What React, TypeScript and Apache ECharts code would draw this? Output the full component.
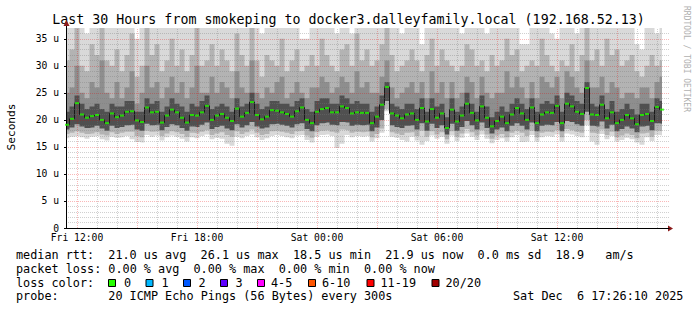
import React, { useEffect, useRef } from 'react';
import * as echarts from 'echarts';

// ---- time base (hours since Fri 00:00), one sample every 15 minutes ----
const startHour = 11.5;
const stepHours = 0.25;
const xMin = 11.45;
const xMax = 41.6;

// ---- median rtt (us) ----
const median = [
  19.1, 20.2, 23.1, 21.0, 20.4, 20.7, 20.9, 20.0, 19.4, 21.2,
  20.5, 20.8, 21.5, 21.6, 19.9, 19.6, 22.3, 21.4, 21.5, 19.5,
  20.8, 21.9, 21.4, 20.4, 19.5, 20.9, 20.8, 21.4, 22.6, 20.0,
  20.8, 21.1, 20.4, 19.8, 22.1, 20.6, 21.3, 23.3, 20.9, 20.1,
  20.6, 21.8, 21.7, 21.4, 21.1, 20.6, 21.6, 22.3, 20.0, 19.4,
  21.5, 22.0, 22.2, 21.4, 21.4, 22.5, 22.2, 21.2, 21.4, 21.3,
  21.3, 19.4, 20.6, 22.8, 26.1, 21.2, 20.8, 20.3, 21.0, 21.2,
  20.0, 22.2, 19.7, 22.0, 20.4, 21.2, 18.5, 21.9, 19.7, 20.8,
  23.0, 21.3, 19.9, 22.5, 20.4, 18.8, 19.8, 20.6, 19.4, 21.0,
  22.2, 21.2, 20.0, 22.3, 19.4, 21.0, 21.4, 21.3, 22.6, 19.4,
  23.0, 22.5, 21.5, 21.1, 25.9, 21.0, 20.9, 22.8, 20.3, 21.4,
  19.4, 20.0, 20.9, 20.3, 19.2, 20.9, 21.1, 19.8, 22.4, 21.9,
];

// ---- smoke: outermost (lightest) band ----
const smokeMin = [
  16.6, 16.9, 17.0, 16.8, 16.5, 16.9, 17.0, 16.4, 16.2, 16.9,
  16.7, 16.8, 17.0, 16.4, 15.9, 15.8, 17.2, 16.9, 17.1, 16.2,
  16.8, 17.1, 16.9, 16.5, 16.0, 16.8, 16.6, 17.0, 17.3, 16.4,
  16.7, 16.5, 15.6, 15.2, 16.9, 16.6, 17.0, 17.3, 16.8, 16.3,
  16.6, 17.0, 17.2, 17.0, 16.8, 16.6, 17.1, 17.2, 16.3, 15.8,
  16.9, 17.2, 17.3, 17.0, 14.8, 15.6, 17.2, 16.8, 17.0, 16.9,
  17.0, 16.0, 16.6, 17.6, 21.6, 16.9, 16.7, 16.3, 16.0, 16.9,
  16.2, 15.4, 16.1, 17.1, 16.5, 16.9, 15.6, 17.1, 16.1, 16.7,
  17.5, 16.9, 16.3, 17.3, 16.5, 15.7, 16.3, 16.6, 16.0, 16.8,
  17.2, 15.9, 16.0, 17.2, 16.0, 16.8, 17.0, 16.9, 17.3, 16.0,
  17.5, 17.3, 17.0, 16.8, 19.0, 16.0, 15.4, 17.4, 16.4, 17.0,
  16.0, 16.3, 16.7, 16.4, 15.8, 15.4, 16.8, 16.1, 17.2, 17.1,
];
const smokeMax = [
  40, 39, 42, 38, 36, 41, 40, 44, 39, 38,
  41, 38, 40, 39, 35, 42, 40, 39, 43, 38,
  40, 44, 39, 41, 38, 40, 42, 39, 40, 43,
  39, 41, 40, 38, 42, 40, 39, 44, 40, 36,
  41, 40, 39, 42, 38, 40, 41, 35, 35, 40,
  39, 42, 40, 38, 36, 40, 41, 36, 43, 40,
  41, 39, 40, 42, 44, 40, 38, 36, 39, 41,
  40, 34, 40, 42, 39, 41, 40, 38, 40, 36,
  40, 42, 39, 38, 36, 40, 40, 39, 42, 40,
  41, 34, 34, 40, 39, 42, 40, 36, 35, 40,
  39, 42, 36, 40, 44, 40, 41, 39, 42, 40,
  41, 39, 40, 40, 34, 33, 38, 40, 36, 39,
];

// ---- smoke: second band ----
const smokeLoOuter = [
  17.4, 17.6, 17.9, 17.6, 17.4, 17.5, 17.7, 17.3, 17.1, 17.7,
  17.4, 17.6, 17.8, 17.8, 17.0, 16.8, 18.0, 17.8, 17.9, 17.0,
  17.5, 17.9, 17.7, 17.4, 16.9, 17.6, 17.5, 17.8, 18.1, 17.2,
  17.5, 17.7, 17.2, 16.9, 17.9, 17.4, 17.7, 18.2, 17.6, 17.2,
  17.4, 17.9, 18.0, 17.8, 17.6, 17.4, 17.9, 18.0, 17.1, 16.7,
  17.7, 18.0, 18.1, 17.8, 17.6, 18.2, 18.1, 17.6, 17.8, 17.7,
  17.8, 16.8, 17.4, 18.4, 22.0, 17.7, 17.5, 17.2, 17.6, 17.7,
  17.0, 18.0, 16.9, 17.9, 17.3, 17.7, 16.4, 17.9, 16.9, 17.5,
  18.3, 17.7, 17.1, 18.1, 17.3, 16.5, 17.1, 17.4, 16.8, 17.6,
  18.0, 17.6, 17.0, 18.0, 16.8, 17.6, 17.8, 17.7, 18.1, 16.8,
  18.3, 18.1, 17.8, 17.6, 20.0, 17.6, 17.5, 18.2, 17.2, 17.8,
  16.8, 17.1, 17.5, 17.2, 16.6, 17.5, 17.6, 16.9, 18.0, 17.9,
];
const smokeHiOuter = [
  31, 33, 38, 30, 29, 34, 32, 38, 31, 30,
  33, 29, 32, 36, 28, 30, 38, 32, 34, 29,
  31, 35, 30, 33, 29, 32, 37, 30, 31, 34,
  30, 33, 31, 29, 36, 32, 30, 38, 31, 28,
  32, 31, 30, 35, 29, 31, 33, 29, 30, 32,
  30, 35, 32, 30, 29, 33, 34, 30, 36, 31,
  33, 30, 31, 34, 38, 32, 29, 30, 31, 33,
  31, 29, 32, 35, 30, 33, 31, 30, 29, 30,
  34, 33, 30, 31, 29, 32, 30, 31, 35, 32,
  33, 29, 30, 31, 30, 35, 32, 30, 29, 31,
  30, 34, 29, 32, 38, 31, 33, 30, 35, 32,
  33, 30, 31, 32, 29, 28, 30, 32, 30, 31,
];

// ---- smoke: inner bands ----
const smokeLoInner = [
  18.2, 18.6, 19.2, 18.8, 18.5, 18.6, 18.9, 18.4, 18.0, 18.9,
  18.5, 18.7, 19.0, 19.1, 18.2, 18.0, 19.3, 19.0, 19.1, 18.1,
  18.7, 19.2, 19.0, 18.5, 18.0, 18.8, 18.7, 19.1, 19.5, 18.3,
  18.7, 18.9, 18.4, 18.1, 19.2, 18.6, 19.0, 19.6, 18.8, 18.4,
  18.6, 19.2, 19.3, 19.1, 18.9, 18.6, 19.2, 19.4, 18.3, 17.9,
  19.0, 19.4, 19.5, 19.1, 19.0, 19.6, 19.5, 18.9, 19.1, 19.0,
  19.1, 17.9, 18.6, 20.0, 23.5, 19.0, 18.7, 18.5, 18.9, 19.0,
  18.2, 19.4, 18.0, 19.3, 18.5, 19.0, 17.3, 19.3, 18.0, 18.7,
  19.8, 19.0, 18.2, 19.5, 18.5, 17.5, 18.2, 18.6, 17.9, 18.9,
  19.4, 18.9, 18.2, 19.5, 17.9, 18.9, 19.1, 19.0, 19.6, 17.9,
  19.8, 19.6, 19.2, 18.9, 21.5, 18.9, 18.8, 19.7, 18.4, 19.1,
  17.9, 18.3, 18.8, 18.4, 17.7, 18.8, 18.9, 18.1, 19.4, 19.3,
];
const smokeHiMid = [
  25, 26, 30, 25, 24, 27, 26, 31, 25, 24,
  27, 24, 26, 29, 23, 25, 30, 26, 27, 24,
  26, 28, 25, 27, 24, 26, 30, 25, 25, 28,
  25, 27, 26, 24, 29, 26, 25, 31, 25, 24,
  26, 25, 27, 28, 24, 25, 27, 25, 24, 26,
  26, 28, 27, 25, 26, 28, 27, 25, 29, 26,
  27, 25, 25, 28, 31, 26, 24, 25, 26, 27,
  25, 27, 24, 29, 25, 27, 24, 27, 24, 25,
  28, 27, 24, 28, 25, 24, 25, 25, 29, 26,
  28, 26, 24, 27, 24, 28, 27, 26, 28, 24,
  29, 28, 26, 25, 31, 26, 26, 28, 25, 27,
  26, 24, 25, 25, 24, 26, 26, 24, 27, 28,
];
const smokeHiInner = [
  21.5, 22.5, 24.5, 23, 22, 22.5, 23, 22, 21.5, 23,
  22.5, 22.5, 23.5, 23.5, 21.5, 21.5, 24, 23, 23.5, 21.5,
  22.5, 24, 23, 22.5, 21.5, 23, 22.5, 23.5, 24.5, 22,
  22.5, 23, 22.5, 21.5, 24, 22.5, 23, 25, 23, 22,
  22.5, 23.5, 23.5, 23, 23, 22.5, 23.5, 24, 22, 21.5,
  23.5, 24, 24, 23, 23, 24.5, 24, 23, 23.5, 23,
  23, 21.5, 22.5, 24.5, 27, 23, 22.5, 22, 23, 23,
  22, 24, 21.5, 24, 22.5, 23, 20.5, 24, 21.5, 22.5,
  25, 23, 21.5, 24.5, 22.5, 20.5, 21.5, 22.5, 21.5, 23,
  24, 23, 22, 24, 21.5, 23, 23.5, 23, 24.5, 21.5,
  25, 24.5, 23.5, 23, 27, 23, 22.5, 24.5, 22, 23.5,
  21.5, 22, 23, 22, 21, 23, 23, 21.5, 24, 23.5,
];

// ---- axes ----
const xTickHours = [12, 18, 24, 30, 36];
const xTickLabels = ['Fri 12:00', 'Fri 18:00', 'Sat 00:00', 'Sat 06:00', 'Sat 12:00'];
const yTicks = [0, 5, 10, 15, 20, 25, 30, 35];
const yMax = 37;

// ---- legend ----
const titleText = 'Last 30 Hours from smokeping to docker3.dalleyfamily.local (192.168.52.13)';
const legendLine1 = 'median rtt:  21.0 us avg  26.1 us max  18.5 us min  21.9 us now  0.0 ms sd  18.9   am/s';
const legendLine2 = 'packet loss: 0.00 % avg  0.00 % max  0.00 % min  0.00 % now';
const legendLine4 = 'probe:       20 ICMP Echo Pings (56 Bytes) every 300s';
const dateText = 'Sat Dec  6 17:26:10 2025';
const lossLabels = ['0', '1', '2', '3', '4-5', '6-10', '11-19', '20/20'];
const lossColors = ['#26ff00', '#00b8ff', '#0059ff', '#5e00ff', '#ff00ff', '#ff5500', '#ff0000', '#a10000'];
const lossBoxX = [108, 145.5, 183, 220, 257, 308, 366.5, 431.5];
const lossLabelX = [124, 161.5, 198.5, 235.5, 271, 322, 380.5, 445.5];

// smoke shades, outermost to innermost
const SHADE_A = '#d9d9d9';
const SHADE_B = '#b3b3b3';
const SHADE_C = '#8e8e8e';
const SHADE_D = '#505050';

const MAJOR_GRID = 'rgba(235,0,0,0.28)';
const MINOR_GRID = 'rgba(120,120,120,0.35)';

const MONO = '"DejaVu Sans Mono", monospace';
const CHAR_W = 7.1;
const LEG_FONT = `11.8px ${MONO}`;

function tokens(line: string, y: number) {
  const out: any[] = [];
  const re = /\S+(?: \S+)*/g;
  let m: RegExpExecArray | null;
  while ((m = re.exec(line)) !== null) {
    out.push({
      type: 'text',
      silent: true,
      style: {
        text: m[0],
        x: 16 + m.index * CHAR_W,
        y,
        font: LEG_FONT,
        fill: '#000',
        textVerticalAlign: 'middle',
      },
    });
  }
  return out;
}

export default function App() {
  const ref = useRef<HTMLDivElement>(null);
  useEffect(() => {
    const chart = echarts.init(ref.current!, null, { renderer: 'svg' });
    const xs = median.map((_, i) => startHour + i * stepHours);
    const pair = (arr: number[]) => arr.map((v, i) => [xs[i], v]);

    // painter's order: each layer fills from its curve down to the axis,
    // later layers cover earlier ones -> nested smoke bands
    const layer = (name: string, arr: number[], color: string) => ({
      type: 'line', name, data: pair(arr), step: 'middle', symbol: 'none',
      lineStyle: { width: 0, opacity: 0 }, areaStyle: { color, opacity: 1, origin: 'start' },
      silent: true, z: 1,
    });

    const gridLines: any[] = [];
    for (let h = 12; h <= 41; h++) {
      const major = h % 3 === 0;
      gridLines.push({
        xAxis: h,
        lineStyle: { color: major ? MAJOR_GRID : MINOR_GRID, type: [1, 1], width: 1 },
      });
    }
    for (let v = 1; v <= 36; v++) {
      const major = v % 5 === 0;
      gridLines.push({
        yAxis: v,
        lineStyle: { color: major ? MAJOR_GRID : MINOR_GRID, type: [1, 1], width: 1 },
      });
    }

    const legendGraphics: any[] = [
      ...tokens(legendLine1, 254.5),
      ...tokens(legendLine2, 268.5),
      ...tokens('loss color:', 282.5),
      ...tokens(legendLine4, 296),
      {
        type: 'text', silent: true,
        style: { text: dateText, x: 16 + 70 * CHAR_W, y: 296, font: LEG_FONT, fill: '#000', textVerticalAlign: 'middle' },
      },
    ];
    lossLabels.forEach((lab, i) => {
      legendGraphics.push({
        type: 'rect', silent: true,
        shape: { x: lossBoxX[i] + 0.5, y: 279.5, width: 7, height: 7 },
        style: { fill: lossColors[i], stroke: '#000', lineWidth: 1 },
      });
      legendGraphics.push({
        type: 'text', silent: true,
        style: { text: lab, x: lossLabelX[i], y: 282.5, font: LEG_FONT, fill: '#000', textVerticalAlign: 'middle' },
      });
    });

    const option: any = {
      animation: false,
      backgroundColor: '#ffffff',
      grid: { left: 66, right: 28, top: 28, bottom: 82, containLabel: false },
      xAxis: {
        type: 'value', min: xMin, max: xMax, z: 6,
        axisLine: { show: true, lineStyle: { color: '#000', width: 1 } },
        axisTick: { show: false },
        splitLine: { show: false },
        axisLabel: {
          customValues: xTickHours,
          formatter: (v: number) => {
            const k = xTickHours.indexOf(Math.round(v));
            return k >= 0 ? xTickLabels[k] : '';
          },
          fontSize: 9.7, fontFamily: MONO, color: '#000', margin: 5, lineHeight: 9,
        },
      },
      yAxis: {
        type: 'value', min: 0, max: yMax, interval: 5, z: 6,
        axisLine: { show: true, lineStyle: { color: '#000', width: 1 } },
        axisTick: { show: true, customValues: yTicks, length: 2, lineStyle: { color: '#000' } },
        splitLine: { show: false },
        axisLabel: {
          customValues: yTicks,
          formatter: (v: number) => (v === 0 ? '0' : `${v} u`),
          fontSize: 9.7, fontFamily: MONO, color: '#000', margin: 7, lineHeight: 8,
        },
      },
      series: [
        layer('max', smokeMax, SHADE_A),
        layer('hiOuter', smokeHiOuter, SHADE_B),
        layer('hiMid', smokeHiMid, SHADE_C),
        layer('hiInner', smokeHiInner, SHADE_D),
        layer('loInner', smokeLoInner, SHADE_B),
        layer('loOuter', smokeLoOuter, SHADE_A),
        layer('min', smokeMin, '#ffffff'),
        {
          type: 'line', name: 'median', data: pair(median), step: 'middle', symbol: 'none',
          lineStyle: { color: '#1a1a1a', width: 1 }, silent: true, z: 3,
          markLine: {
            silent: true, symbol: ['none', 'none'], label: { show: false }, z: 5,
            animation: false, data: gridLines,
          },
        },
        {
          type: 'scatter', name: 'median-loss', data: pair(median), symbol: 'rect', symbolSize: [4, 2],
          itemStyle: { color: lossColors[0] }, silent: true, z: 10,
        },
      ],
      graphic: [
        {
          type: 'text', silent: true,
          style: { text: titleText, x: 348.5, y: 19, font: `13.3px ${MONO}`, fill: '#000', textAlign: 'center', textVerticalAlign: 'middle' },
        },
        {
          type: 'text', silent: true, x: 11, y: 127, rotation: Math.PI / 2,
          style: { text: 'Seconds', x: 0, y: 0, font: `11.2px ${MONO}`, fill: '#000', textAlign: 'center', textVerticalAlign: 'middle' },
        },
        {
          type: 'text', silent: true, x: 686, y: 59, rotation: -Math.PI / 2,
          style: { text: 'RRDTOOL / TOBI OETIKER', x: 0, y: 0, font: `8px ${MONO}`, fill: '#b0b0b0', textAlign: 'center', textVerticalAlign: 'middle' },
        },
        ...legendGraphics,
      ],
    };
    chart.setOption(option);

    // axis arrows, placed from the axes' own scales
    const tl = chart.convertToPixel({ gridIndex: 0 } as any, [xMin, yMax]) as number[];
    const br = chart.convertToPixel({ gridIndex: 0 } as any, [xMax, 0]) as number[];
    if (tl && br) {
      const ax = Math.round(tl[0]) + 0.5;
      const ay = Math.round(br[1]) + 0.5;
      chart.setOption({
        graphic: [
          ...option.graphic,
          { type: 'line', silent: true, shape: { x1: ax, y1: tl[1], x2: ax, y2: tl[1] - 4 }, style: { stroke: '#000', lineWidth: 1 } },
          { type: 'polygon', silent: true, shape: { points: [[ax - 3, tl[1] - 2], [ax + 3, tl[1] - 2], [ax, tl[1] - 8]] }, style: { fill: '#8b1a1a' } },
          { type: 'polygon', silent: true, shape: { points: [[br[0] - 1, ay - 3], [br[0] - 1, ay + 3], [br[0] + 4, ay]] }, style: { fill: '#8b1a1a' } },
        ],
      });
    }

    return () => chart.dispose();
  }, []);
  return <div ref={ref} style={{ position: 'absolute', left: 0, top: 0, width: 697, height: 310 }} />;
}
